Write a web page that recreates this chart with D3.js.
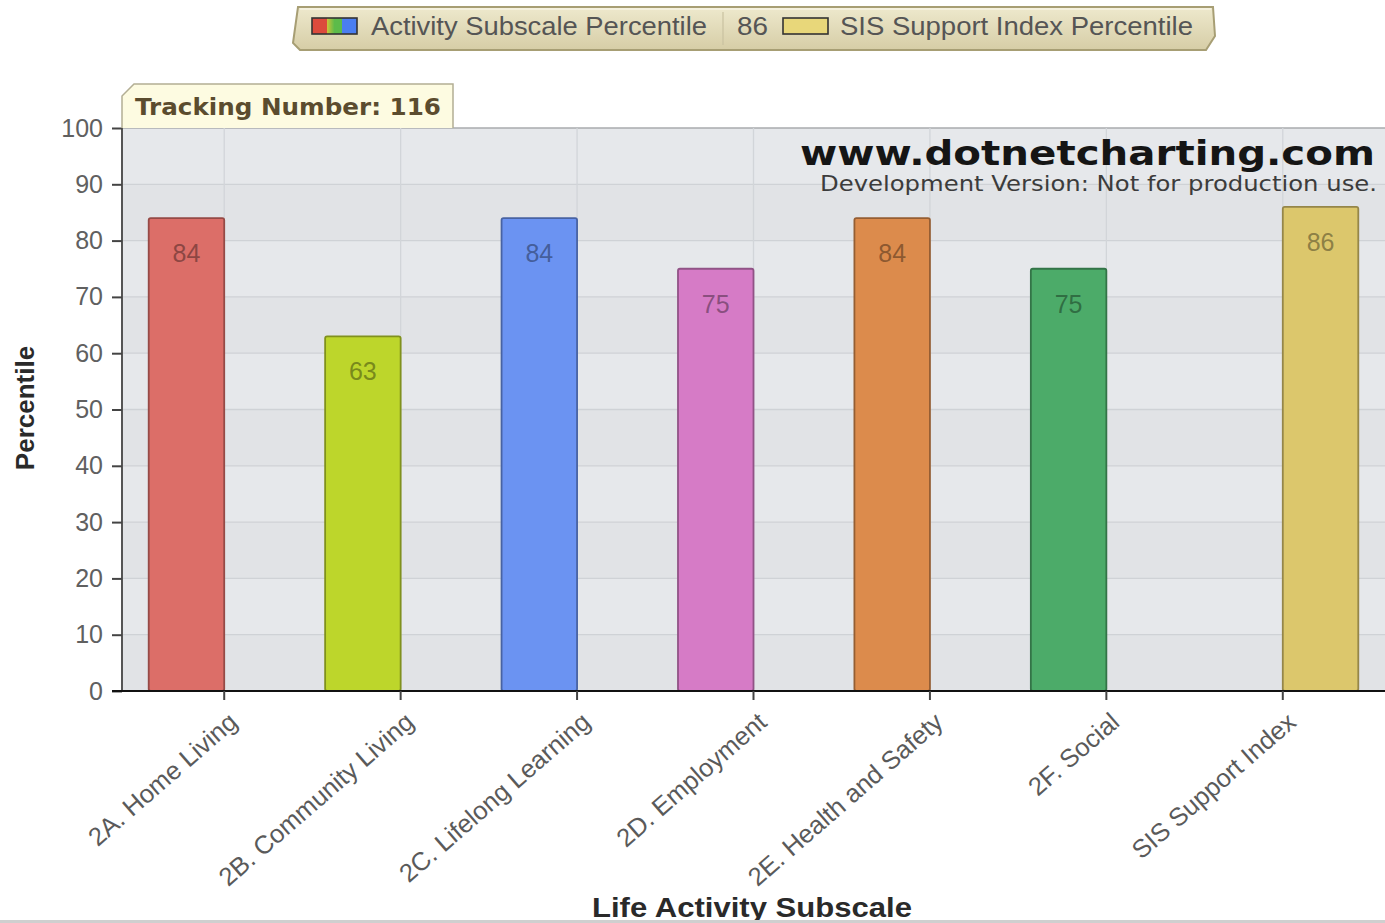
<!DOCTYPE html>
<html>
<head>
<meta charset="utf-8">
<script src="https://cdn.jsdelivr.net/npm/d3@7"></script>
<style>
  html, body { margin: 0; padding: 0; background: #ffffff; }
  svg { display: block; }
</style>
</head>
<body>
<svg id="chart" width="1385" height="923"></svg>
<script>
// Categories along the x axis
const categories = ["2A. Home Living", "2B. Community Living", "2C. Lifelong Learning",
  "2D. Employment", "2E. Health and Safety", "2F. Social", "SIS Support Index"];
// Series names (legend order)
const seriesNames = ["Activity Subscale Percentile", "SIS Support Index Percentile"];
// Activity subscale percentiles (no value for the support index column)
const activityValues = [84, 63, 84, 75, 84, 75, null];
// Support index percentile (only in the last column)
const supportValues = [null, null, null, null, null, null, 86];
// Per-bar fill colours for each series
const activityColors = ["#dc6e68", "#bdd62b", "#6b93f2", "#d67bc6", "#dc8b4c", "#4cab69", null];
const supportColors = [null, null, null, null, null, null, "#dcc76c"];
// Y axis ticks
const yTicks = [0, 10, 20, 30, 40, 50, 60, 70, 80, 90, 100];
const trackingNumber = 116;

const svg = d3.select("#chart");
const plot = { left: 122, right: 1385, top: 128, bottom: 691 };
const sans = "Liberation Sans, Arial, sans-serif";

const y = d3.scaleLinear().domain([0, 100]).range([plot.bottom, plot.top]);
const x0 = d3.scaleBand().domain(categories).range([136, 1371]).paddingInner(0).paddingOuter(0);
const step = x0.bandwidth();
const barW = step * 0.428;
const x1 = d3.scaleBand().domain(seriesNames)
  .range([step / 2 - barW, step / 2 + barW]).paddingInner(0).paddingOuter(0);

// ---- plot background with faint alternating bands ----
const bg = svg.append("g");
bg.append("rect").attr("x", plot.left).attr("y", plot.top)
  .attr("width", plot.right - plot.left).attr("height", plot.bottom - plot.top)
  .attr("fill", "#e6e8eb");
bg.selectAll("rect.band").data(d3.range(0, 100, 20)).join("rect")
  .attr("class", "band")
  .attr("x", plot.left).attr("width", plot.right - plot.left)
  .attr("y", d => y(d + 10)).attr("height", d => y(d) - y(d + 10))
  .attr("fill", "#e1e3e6");

// horizontal grid
bg.selectAll("line.hg").data(yTicks.slice(1)).join("line")
  .attr("x1", plot.left).attr("x2", plot.right)
  .attr("y1", d => y(d)).attr("y2", d => y(d))
  .attr("stroke", d => d === 100 ? "#a9abae" : "#cfd2d6").attr("stroke-width", 1.3);
// vertical grid at category centres
bg.selectAll("line.vg").data(categories).join("line")
  .attr("x1", d => x0(d) + step / 2).attr("x2", d => x0(d) + step / 2)
  .attr("y1", plot.top).attr("y2", plot.bottom)
  .attr("stroke", "#d2d5d9").attr("stroke-width", 1.3);

// ---- watermark ----
svg.append("text").attr("x", 1375).attr("y", 165)
  .attr("text-anchor", "end")
  .attr("font-family", "DejaVu Sans").attr("font-weight", "bold").attr("font-size", 34)
  .attr("textLength", 575).attr("lengthAdjust", "spacingAndGlyphs")
  .attr("fill", "#151515").text("www.dotnetcharting.com");
svg.append("text").attr("x", 1377).attr("y", 191)
  .attr("text-anchor", "end")
  .attr("font-family", "DejaVu Sans").attr("font-size", 22)
  .attr("textLength", 557).attr("lengthAdjust", "spacingAndGlyphs")
  .attr("fill", "#3c3c3c").text("Development Version: Not for production use.");

// ---- bars ----
const darker = c => d3.color(c).darker(1.1).formatHex();
const labelCol = c => d3.color(c).darker(1.7).formatHex();

function drawSeries(name, values, colors) {
  const rows = categories.map((c, i) => ({ c, v: values[i], col: colors[i] }))
    .filter(d => d.v != null);
  const g = svg.append("g");
  g.selectAll("rect").data(rows).join("rect")
    .attr("x", d => x0(d.c) + x1(name))
    .attr("y", d => y(d.v))
    .attr("width", x1.bandwidth())
    .attr("height", d => y(0) - y(d.v))
    .attr("rx", 2)
    .attr("fill", d => d.col)
    .attr("stroke", d => darker(d.col))
    .attr("stroke-width", 1.8);
  g.selectAll("text").data(rows).join("text")
    .attr("x", d => x0(d.c) + x1(name) + x1.bandwidth() / 2)
    .attr("y", d => y(d.v) + 44)
    .attr("text-anchor", "middle")
    .attr("font-family", sans)
    .attr("font-size", 25)
    .attr("fill", d => labelCol(d.col))
    .attr("fill-opacity", 0.8)
    .text(d => d.v);
}
drawSeries(seriesNames[0], activityValues, activityColors);
drawSeries(seriesNames[1], supportValues, supportColors);

// ---- axes ----
const yAxis = svg.append("g").attr("transform", `translate(${plot.left},0)`)
  .call(d3.axisLeft(y).tickValues(yTicks).tickSize(10).tickPadding(9));
yAxis.select(".domain").attr("stroke", "#555").attr("stroke-width", 2)
  .attr("d", `M0,${plot.top}V${plot.bottom}`);
yAxis.selectAll(".tick line").attr("stroke", "#444").attr("stroke-width", 2);
yAxis.selectAll(".tick text")
  .attr("font-family", sans).attr("font-size", 25)
  .attr("fill", "#606060");

const xAxis = svg.append("g").attr("transform", `translate(0,${plot.bottom})`)
  .call(d3.axisBottom(x0).tickSize(9).tickPadding(0));
xAxis.select(".domain").attr("stroke", "#111").attr("stroke-width", 2)
  .attr("d", `M${plot.left - 10},0H${plot.right}`);
xAxis.selectAll(".tick line").attr("stroke", "#444").attr("stroke-width", 2);
xAxis.selectAll(".tick text")
  .attr("font-family", sans).attr("font-size", 25.5)
  .attr("fill", "#5a5a5a")
  .attr("text-anchor", "end")
  .attr("dy", "0.35em")
  .attr("transform", "translate(3,20) rotate(-41)");

// axis titles
svg.append("text")
  .attr("transform", "translate(34,408) rotate(-90)")
  .attr("text-anchor", "middle")
  .attr("font-family", sans).attr("font-weight", "bold")
  .attr("font-size", 26).attr("fill", "#2a2a2a").text("Percentile");
svg.append("text").attr("x", 752).attr("y", 917)
  .attr("text-anchor", "middle")
  .attr("font-family", sans).attr("font-weight", "bold")
  .attr("font-size", 28).attr("textLength", 320).attr("lengthAdjust", "spacingAndGlyphs")
  .attr("fill", "#2a2a2a").text("Life Activity Subscale");

// bottom edge strip
svg.append("rect").attr("x", 0).attr("y", 920).attr("width", 1385).attr("height", 3)
  .attr("fill", "#cfcfcf");

// ---- tracking number tab ----
const tab = svg.append("g");
tab.append("path")
  .attr("d", "M122,128 L122,96 L134,84 L453,84 L453,128")
  .attr("fill", "#fdfbe1").attr("stroke", "#b3ae94").attr("stroke-width", 1.5);
tab.append("text").attr("x", 135).attr("y", 115)
  .attr("font-family", "DejaVu Sans").attr("font-weight", "bold").attr("font-size", 23)
  .attr("textLength", 306).attr("lengthAdjust", "spacingAndGlyphs")
  .attr("fill", "#5b4c2e").text(`Tracking Number: ${trackingNumber}`);

// ---- legend ----
const defs = svg.append("defs");
const lg = defs.append("linearGradient").attr("id", "legBg").attr("x1", 0).attr("y1", 0).attr("x2", 0).attr("y2", 1);
lg.append("stop").attr("offset", "0%").attr("stop-color", "#eee9cd");
lg.append("stop").attr("offset", "100%").attr("stop-color", "#d6cda6");
const sw = defs.append("linearGradient").attr("id", "multiSw").attr("x1", 0).attr("y1", 0).attr("x2", 1).attr("y2", 0);
[["0%", "#dc4a3c"], ["33%", "#dc4a3c"], ["34%", "#c8c43a"], ["50%", "#5cbb4a"], ["66%", "#5cbb4a"], ["67%", "#4a7ef0"], ["100%", "#4a7ef0"]]
  .forEach(([o, c]) => sw.append("stop").attr("offset", o).attr("stop-color", c));

const legend = svg.append("g");
legend.append("path")
  .attr("d", "M298,7 L1213,7 L1215,36 L1206,50 L300,50 L293,43 Z")
  .attr("fill", "url(#legBg)").attr("stroke", "#a79e74").attr("stroke-width", 2);
legend.append("line").attr("x1", 300).attr("x2", 1211).attr("y1", 9).attr("y2", 9)
  .attr("stroke", "#f7f4e4").attr("stroke-width", 1.5);
legend.append("rect").attr("x", 312).attr("y", 18).attr("width", 45).attr("height", 16)
  .attr("fill", "url(#multiSw)").attr("stroke", "#333").attr("stroke-width", 1.6);
legend.append("text").attr("x", 371).attr("y", 35)
  .attr("font-family", sans).attr("font-size", 25)
  .attr("textLength", 336).attr("lengthAdjust", "spacingAndGlyphs")
  .attr("fill", "#555").text(seriesNames[0]);
legend.append("line").attr("x1", 723).attr("x2", 723).attr("y1", 12).attr("y2", 45)
  .attr("stroke", "#c9c1a0").attr("stroke-width", 1.2);
legend.append("text").attr("x", 737).attr("y", 35)
  .attr("font-family", sans).attr("font-size", 25)
  .attr("textLength", 31).attr("lengthAdjust", "spacingAndGlyphs")
  .attr("fill", "#555").text(supportValues[6]);
legend.append("rect").attr("x", 783).attr("y", 18).attr("width", 45).attr("height", 16)
  .attr("fill", "#e8d77a").attr("stroke", "#333").attr("stroke-width", 1.6);
legend.append("text").attr("x", 840).attr("y", 35)
  .attr("font-family", sans).attr("font-size", 25)
  .attr("textLength", 353).attr("lengthAdjust", "spacingAndGlyphs")
  .attr("fill", "#555").text(seriesNames[1]);
</script>
</body>
</html>
